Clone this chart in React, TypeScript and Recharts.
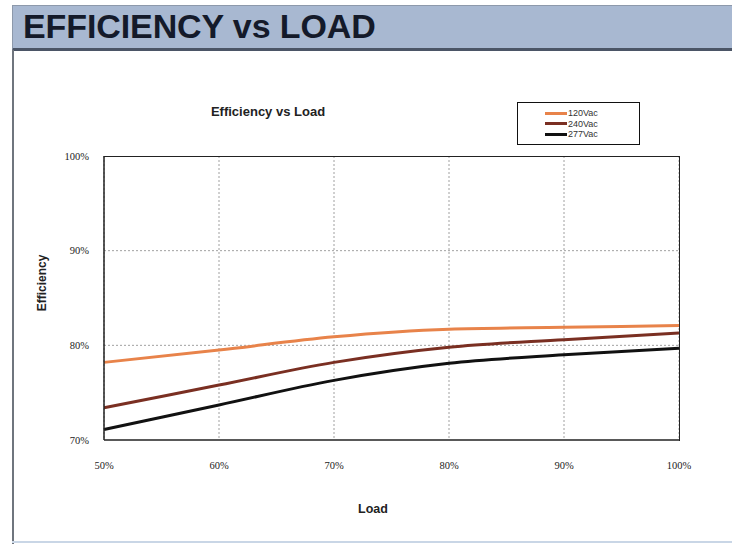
import { CartesianGrid, Line, LineChart, XAxis, YAxis } from 'recharts'

const loads = [50, 60, 70, 80, 90, 100]
const eff120 = [78.2, 79.5, 80.9, 81.7, 81.9, 82.1]
const eff240 = [73.4, 75.8, 78.2, 79.8, 80.6, 81.3]
const eff277 = [71.1, 73.7, 76.3, 78.1, 79.0, 79.7]
const yTicks = [70, 80, 90, 100]

const SERIES = [
  { key: 'v120', name: '120Vac', color: '#e8834a' },
  { key: 'v240', name: '240Vac', color: '#7a2f22' },
  { key: 'v277', name: '277Vac', color: '#111111' },
]

const data = loads.map((load, i) => ({
  load,
  v120: eff120[i],
  v240: eff240[i],
  v277: eff277[i],
}))

const tickStyle = {
  fill: '#222',
  fontSize: 10.5,
  fontFamily: 'Liberation Serif',
}

const labelStyle = {
  position: 'absolute' as const,
  textAlign: 'center' as const,
  fontFamily: 'Liberation Sans',
  fontWeight: 'bold',
  color: '#222',
}

export default function App() {
  return (
    <div
      style={{
        position: 'absolute',
        left: 0,
        top: 0,
        width: 732,
        height: 544,
        background: '#fff',
        overflow: 'hidden',
      }}
    >
      {/* header band */}
      <div
        style={{
          position: 'absolute',
          left: 12,
          top: 5,
          width: 730,
          height: 42,
          background: '#a8b8d1',
          borderTop: '1px solid #8d99ab',
          borderBottom: '3px solid #4b5566',
          borderLeft: '1px solid #8d99ab',
        }}
      >
        <span
          style={{
            position: 'absolute',
            left: 10,
            top: 1,
            fontFamily: 'Liberation Sans',
            fontWeight: 'bold',
            fontSize: 34,
            letterSpacing: -0.1,
            color: '#141a2a',
          }}
        >
          EFFICIENCY vs LOAD
        </span>
      </div>
      {/* frame lines */}
      <div
        style={{
          position: 'absolute',
          left: 12,
          top: 50,
          width: 2,
          height: 494,
          background: '#6f757e',
        }}
      />
      <div
        style={{
          position: 'absolute',
          left: 12,
          top: 541,
          width: 720,
          height: 2,
          background: '#c9d6e6',
        }}
      />

      <div style={{ position: 'absolute', left: 0, top: 0 }}>
        <LineChart
          width={732}
          height={544}
          data={data}
          margin={{ top: 156, right: 53, bottom: 74, left: 54 }}
        >
          <CartesianGrid
            stroke='#a0a0a0'
            strokeDasharray='2 2'
            horizontalValues={[80, 90]}
          />
          <XAxis
            dataKey='load'
            type='number'
            domain={[50, 100]}
            ticks={loads}
            tickFormatter={(v) => `${v}%`}
            tick={tickStyle}
            tickLine={false}
            axisLine={{ stroke: '#222', strokeWidth: 1.5 }}
            height={30}
            tickMargin={16}
          />
          <YAxis
            type='number'
            domain={[70, 100]}
            ticks={yTicks}
            tickFormatter={(v) => `${v}%`}
            tick={tickStyle}
            tickLine={false}
            axisLine={{ stroke: '#222', strokeWidth: 1.5 }}
            width={50}
            tickMargin={9}
          />
          {SERIES.map((s) => (
            <Line
              key={s.key}
              type='monotone'
              dataKey={s.key}
              name={s.name}
              stroke={s.color}
              strokeWidth={3}
              dot={false}
              isAnimationActive={false}
            />
          ))}
        </LineChart>
      </div>

      {/* plot frame: top and right edges */}
      <div
        style={{
          position: 'absolute',
          left: 104,
          top: 156,
          width: 576,
          height: 285,
          borderTop: '1.5px solid #222',
          borderRight: '1.5px solid #222',
          boxSizing: 'border-box',
          pointerEvents: 'none',
        }}
      />

      {/* legend */}
      <div
        style={{
          position: 'absolute',
          left: 517,
          top: 102,
          width: 123,
          height: 43,
          border: '1.5px solid #111',
          boxSizing: 'border-box',
          paddingTop: 5,
          paddingLeft: 27,
          background: '#fff',
        }}
      >
        {SERIES.map((s) => (
          <div
            key={s.key}
            style={{ display: 'flex', alignItems: 'center', height: 10.5 }}
          >
            <div style={{ width: 22, height: 3, background: s.color }} />
            <span
              style={{
                fontSize: 9,
                fontFamily: 'Liberation Sans',
                color: '#333',
                marginLeft: 1,
              }}
            >
              {s.name}
            </span>
          </div>
        ))}
      </div>

      <div style={{ ...labelStyle, left: 198, top: 104, width: 140, fontSize: 13 }}>
        Efficiency vs Load
      </div>
      <div
        style={{
          ...labelStyle,
          left: 0,
          top: 276,
          width: 84,
          fontSize: 12,
          transform: 'rotate(-90deg)',
        }}
      >
        Efficiency
      </div>
      <div style={{ ...labelStyle, left: 333, top: 502, width: 80, fontSize: 12.5 }}>
        Load
      </div>
    </div>
  )
}
